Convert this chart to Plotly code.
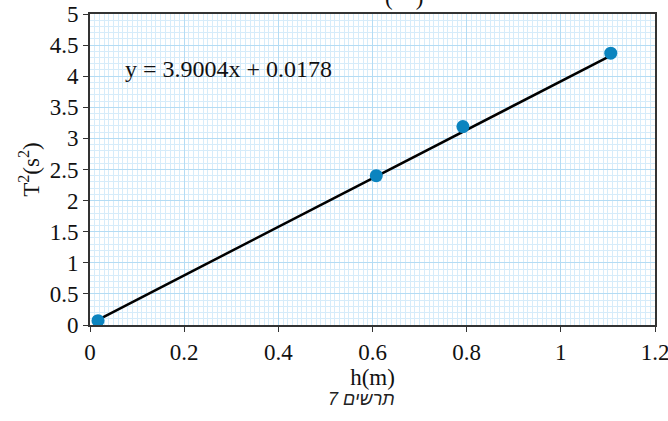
import plotly.graph_objects as go

h_m = [0.017, 0.608, 0.792, 1.106]
T2_s2 = [0.07, 2.40, 3.19, 4.37]
slope = 3.9004
intercept = 0.0178
trend_x = [h_m[0], h_m[-1]]
trend_y = [slope * x + intercept for x in trend_x]

x_ticks = [0, 0.2, 0.4, 0.6, 0.8, 1, 1.2]
x_tick_labels = ["0", "0.2", "0.4", "0.6", "0.8", "1", "1.2"]
y_ticks = [0, 0.5, 1, 1.5, 2, 2.5, 3, 3.5, 4, 4.5, 5]
y_tick_labels = ["0", "0.5", "1", "1.5", "2", "2.5", "3", "3.5", "4", "4.5", "5"]

serif = "Liberation Serif, Times New Roman, serif"

fig = go.Figure()
fig.add_trace(go.Scatter(x=trend_x, y=trend_y, mode="lines",
                         line=dict(color="black", width=2.5), showlegend=False))
fig.add_trace(go.Scatter(x=h_m, y=T2_s2, mode="markers",
                         marker=dict(color="#0b84bf", size=13), showlegend=False))

axis_common = dict(
    showline=True, linecolor="#333333", linewidth=2, mirror=True,
    ticks="outside", ticklen=5, tickcolor="#333333", tickwidth=1,
    tickfont=dict(family=serif, size=23, color="#111"),
    showgrid=True, gridcolor="#b4dcf4", gridwidth=1,
    zeroline=False, automargin=False, ticklabeloverflow="allow",
)
fig.update_xaxes(**axis_common, range=[0, 1.2], tickvals=x_ticks, ticktext=x_tick_labels,
                 minor=dict(dtick=0.01, showgrid=True, gridcolor="#d6ecfa", gridwidth=1, ticks=""),
                 title=dict(text="h(m)", font=dict(family=serif, size=23, color="#111"), standoff=0))
fig.update_yaxes(**axis_common, range=[0, 5], tickvals=y_ticks, ticktext=y_tick_labels,
                 minor=dict(dtick=0.1, showgrid=True, gridcolor="#d6ecfa", gridwidth=1, ticks=""),
                 title=dict(text="T<sup>2</sup>(s<sup>2</sup>)", font=dict(family=serif, size=23, color="#111"), standoff=4))

fig.add_annotation(x=0.07, y=4.12, xref="x", yref="y", text="y = 3.9004x + 0.0178",
                   showarrow=False, xanchor="left",
                   font=dict(family=serif, size=24, color="#111"))
fig.add_annotation(x=0.48, y=-0.275, xref="paper", yref="paper", text="<i>תרשים 7</i>",
                   showarrow=False, font=dict(family="Liberation Sans, Arial, sans-serif", size=18, color="#222"))
fig.add_annotation(x=0.555, y=1.005, xref="paper", yref="paper", text="(    )", yanchor="bottom",
                   showarrow=False, font=dict(family=serif, size=23, color="#111"))

fig.update_layout(
    width=668, height=421,
    margin=dict(l=90, r=13, t=14, b=96),
    paper_bgcolor="white", plot_bgcolor="white",
)
fig.write_html("out.html", config={"displayModeBar": False},
               post_script="document.body.style.margin='0';document.body.style.overflow='hidden';")
